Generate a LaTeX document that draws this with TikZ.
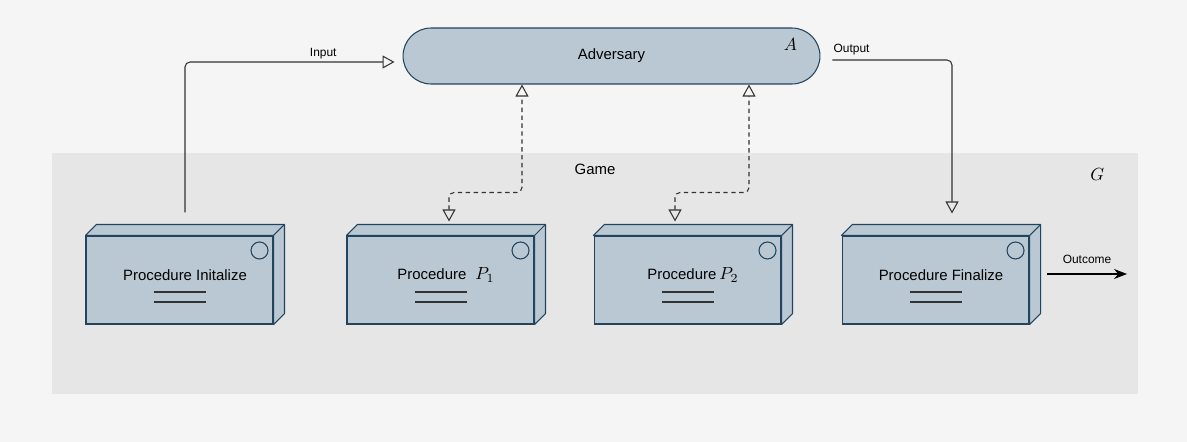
\documentclass[tikz,border=0pt]{standalone}
\usepackage{fix-cm}
\usepackage{fontspec}
\setmainfont{Liberation Sans}
\usetikzlibrary{arrows.meta,positioning,calc}
\definecolor{bgclr}{HTML}{F5F5F5}
\definecolor{gameclr}{HTML}{E6E6E6}
\definecolor{procclr}{HTML}{BAC8D3}
\definecolor{edgeclr}{HTML}{23445D}
\definecolor{lineclr}{HTML}{333333}
\newcommand{\mathbig}[1]{{\fontsize{10}{12}\selectfont$#1$}}

\begin{document}
\begin{tikzpicture}[x=0.02cm, y=-0.02cm,
  proc/.style={draw=edgeclr, fill=procclr, line width=0.6pt, minimum width=3.74cm, minimum height=1.76cm, inner sep=0pt},
  face/.style={draw=edgeclr, fill=procclr, line width=0.6pt, line join=round},
  adv/.style={draw=edgeclr, fill=procclr, line width=0.6pt, rounded corners=0.56cm, minimum width=8.34cm, minimum height=1.12cm, font=\fontsize{8.5}{10}\selectfont},
  ptxt/.style={font=\fontsize{8.5}{10}\selectfont},
  lab/.style={font=\fontsize{6.8}{8}\selectfont, inner sep=1.5pt},
  conn/.style={draw=lineclr, line width=0.6pt, rounded corners=0.1cm, -{Triangle[open, length=0.24cm, width=0.26cm]}},
  dconn/.style={conn, dash pattern=on 2.5pt off 2pt, {Triangle[open, length=0.24cm, width=0.26cm]}-{Triangle[open, length=0.24cm, width=0.26cm]}},
  dline/.style={draw=lineclr, line width=0.7pt}]
  \fill[bgclr] (0,0) rectangle (1187,442);
  \node[fill=gameclr, minimum width=21.72cm, minimum height=4.82cm] (game) at (595,273.5) {};
  \node[ptxt] (gamelab) at ($(game.north)+(0,17)$) {Game};
  \node[ptxt] (glab) at ($(game.north east)+(-41,22)$) {\mathbig{G}};

  \node[adv] (adv) at (611.5,56) {Adversary};
  \node[ptxt] (alab) at ($(adv.north east)+(-30,17)$) {\mathbig{A}};

  \node[proc, label={[name=initlab, ptxt, xshift=0.11cm, yshift=0.1cm]center:Procedure Initalize}] (init) at (179.5,280) {};
  \node[proc, right=1.46cm of init, label={[name=p1lab, ptxt, xshift=0.11cm, yshift=0.1cm]center:Procedure\hspace{0.18cm}\mathbig{P_1}}] (p1) {};
  \node[proc, right=1.18cm of p1, label={[name=p2lab, ptxt, xshift=0.11cm, yshift=0.1cm]center:Procedure\hspace{0.06cm}\mathbig{P_2}}] (p2) {};
  \node[proc, right=1.2cm of p2, label={[name=finlab, ptxt, xshift=0.11cm, yshift=0.1cm]center:Procedure Finalize}] (fin) {};

  \foreach \n in {init,p1,p2,fin}{
    \draw[face] (\n.north west) -- ++(11,-11) -- ($(\n.north east)+(11,-11)$) -- ($(\n.south east)+(11,-11)$) -- (\n.south east) -- (\n.north east) -- cycle;
    \draw[face] (\n.north east) -- ++(11,-11);
    \draw[draw=edgeclr, line width=0.6pt] ($(\n.north east)+(-14,15)$) circle[radius=0.17cm];
    \draw[dline] ($(\n.center)+(-26,12)$) -- ++(52,0);
    \draw[dline] ($(\n.center)+(-26,22)$) -- ++(52,0);
  }

  \draw[conn] ($(init.north)+(5.5,-23)$) |- ($(adv.west)+(-8,6)$) node[lab, above=0pt, pos=0.83] {Input};
  \draw[conn] ($(adv.east)+(12,4)$) -| ($(fin.north)+(16.5,-22)$) node[lab, above=1pt, pos=0.08] {Output};
  \draw[dconn] ($(p1.north)+(8.5,-14)$) -- ++(0,-29) -| ($(adv.south)+(-89.5,0)$);
  \draw[dconn] ($(p2.north)+(-12.5,-14)$) -- ++(0,-29) -| ($(adv.south)+(137.5,0)$);
  \coordinate (outc) at (1127,274);
  \draw[draw=black, line width=0.6pt, -{Stealth[length=0.26cm, width=0.2cm]}] ($(fin.east)+(17.5,-6)$) -- node[lab, above=4pt] {Outcome} (outc);
\end{tikzpicture}
\end{document}
